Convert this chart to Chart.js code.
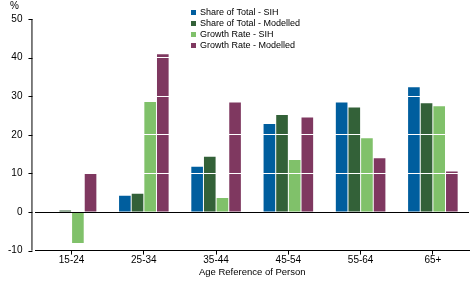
<!DOCTYPE html>
<html>
<head>
<meta charset="utf-8">
<script src="https://cdn.jsdelivr.net/npm/chart.js@4"></script>
<style>
  html, body { margin: 0; padding: 0; background: #fff; }
  #wrap { width: 472px; height: 283px; }
</style>
</head>
<body>
<div id="wrap"><canvas id="barGraph"></canvas></div>
<script>
  const ageGroups = ['15-24', '25-34', '35-44', '45-54', '55-64', '65+'];
  const shareSIH = [0, 4.2, 11.7, 22.8, 28.4, 32.3];
  const shareModelled = [0.4, 4.7, 14.3, 25.1, 27.1, 28.2];
  const growthSIH = [-8.0, 28.5, 3.6, 13.5, 19.1, 27.4];
  const growthModelled = [9.9, 40.9, 28.4, 24.5, 13.9, 10.5];
  const yTicks = [-10, 0, 10, 20, 30, 40, 50];

  const fontName = '"Liberation Sans", Arial, sans-serif';

  // legend, "%" label and left axis line drawn by hand
  const extras = {
    id: 'extras',
    afterDraw(chart) {
      const c = chart.ctx;
      const y = chart.scales.y;
      const left = chart.chartArea.left - 4;
      c.save();
      c.strokeStyle = '#000';
      c.lineWidth = 1;
      c.beginPath();
      c.moveTo(left + 0.5, y.getPixelForValue(50));
      c.lineTo(left + 0.5, y.getPixelForValue(-10));
      yTicks.forEach(v => {
        const py = Math.round(y.getPixelForValue(v)) + 0.5;
        c.moveTo(left - 3, py);
        c.lineTo(left + 1, py);
      });
      c.stroke();

      c.fillStyle = '#000';
      c.font = '10px ' + fontName;
      c.textAlign = 'left';
      c.textBaseline = 'middle';
      c.fillText('%', 10, 6);

      c.font = '9px ' + fontName;
      chart.data.datasets.forEach((ds, i) => {
        const cy = 12.5 + i * 11;
        c.fillStyle = ds.backgroundColor;
        c.fillRect(191, cy - 2.5, 5, 5);
        c.fillStyle = '#000';
        c.fillText(ds.label, 200, cy);
      });
      c.restore();
    }
  };

  const ctx = document.getElementById('barGraph');

  new Chart(ctx, {
    type: 'bar',
    data: {
      labels: ageGroups,
      datasets: [
        { label: 'Share of Total - SIH', data: shareSIH, backgroundColor: '#005E9E' },
        { label: 'Share of Total - Modelled', data: shareModelled, backgroundColor: '#336138' },
        { label: 'Growth Rate - SIH', data: growthSIH, backgroundColor: '#80C16A' },
        { label: 'Growth Rate - Modelled', data: growthModelled, backgroundColor: '#7F3860' }
      ]
    },
    options: {
      responsive: true,
      maintainAspectRatio: false,
      animation: false,
      layout: { padding: { top: 13, right: 3, left: -5, bottom: 2 } },
      datasets: {
        bar: { categoryPercentage: 0.7, barPercentage: 0.92 }
      },
      plugins: {
        legend: { display: false },
        tooltip: { enabled: false }
      },
      scales: {
        x: {
          grid: {
            offset: false,
            drawOnChartArea: false,
            drawTicks: true,
            tickLength: 4,
            tickColor: '#000'
          },
          border: { color: '#000', width: 1 },
          ticks: { color: '#000', font: { family: fontName, size: 10 }, padding: 0 },
          title: {
            display: true,
            text: 'Age Reference of Person',
            color: '#000',
            font: { family: fontName, size: 9.5 },
            padding: { top: 0, bottom: 3 }
          }
        },
        y: {
          min: -10,
          max: 50,
          afterBuildTicks(scale) {
            scale.ticks = yTicks.map(v => ({ value: v }));
          },
          grid: {
            z: 1,
            drawTicks: false,
            lineWidth: 1,
            color: c => (c.tick && c.tick.value === 0 ? '#000' : (c.tick && c.tick.value === -10 ? 'rgba(0,0,0,0)' : '#fff'))
          },
          border: { display: false },
          ticks: {
            color: '#000',
            font: { family: fontName, size: 10 },
            padding: 13
          }
        }
      }
    },
    plugins: [extras]
  });
</script>
</body>
</html>
